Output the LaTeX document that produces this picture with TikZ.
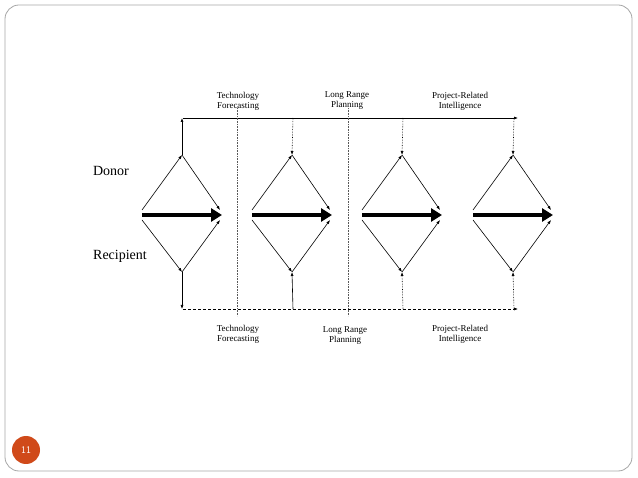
\documentclass[tikz,border=0pt]{standalone}
\usepackage{fontspec}
\setmainfont{Liberation Serif}
\usetikzlibrary{arrows.meta,calc}
\definecolor{slide}{HTML}{D04A1A}
\begin{document}
\begin{tikzpicture}[x=1pt,y=-1pt,
  thin/.style={line width=0.6pt,-{Latex[length=4pt,width=3pt]}},
  dot/.style={thin,densely dotted},
  big/.style={line width=4.5pt,-{Triangle[length=11pt,width=13pt]}},
  lab/.style={font=\fontsize{9}{10}\selectfont,align=center},
  sep/.style={line width=0.6pt,densely dotted,gray!70!black}]
\useasboundingbox (0,0) rectangle (638,478);
\draw[gray!70,line width=0.8pt,rounded corners=14pt] (5,5) rectangle (632,471);
\node[circle,fill=slide,minimum size=28pt,inner sep=0,text=white,font=\sffamily] (pg) at (26,450) {11};
\node[font=\fontsize{14}{14}\selectfont] (donor) at (111,171) {Donor};
\node[font=\fontsize{14}{14}\selectfont] (recip) at (120,256) {Recipient};
% lines
\coordinate (tl) at (183,118); \coordinate (tr) at (518,118);
\coordinate (bl) at (183,309); \coordinate (br) at (518,309);
\draw[thin] (tl) -- (tr);
\draw[thin,densely dashed] (bl) -- (br);
% separators
\coordinate (s1a) at (237,108); \coordinate (s1b) at (237,316);
\coordinate (s2a) at (348,108); \coordinate (s2b) at (348,316);
\draw[sep] (s1a) -- (s1b);
\draw[sep] (s2a) -- (s2b);
% diamonds
\foreach \i/\x in {1/142,2/252,3/362,4/473}{
  \coordinate (L\i) at (\x,215);
  \coordinate (R\i) at (\x+80,215);
  \coordinate (T\i) at (\x+40,155);
  \coordinate (B\i) at (\x+40,272);
  \draw[thin] ($(L\i)+(0,-5)$) -- (T\i);
  \draw[thin] (T\i) -- ($(R\i)+(-2,-5)$);
  \draw[thin] ($(L\i)+(0,5)$) -- (B\i);
  \draw[thin] (B\i) -- ($(R\i)+(-2,5)$);
  \draw[big] (L\i) -- (R\i);
}
\coordinate (t1) at (182,118); \coordinate (b1) at (182,309);
\draw[thin] (T1) -- (t1);
\draw[thin] (B1) -- (b1);
\foreach \i/\x in {2/293,3/403,4/514}{
  \coordinate (t\i) at (\x,118);
  \draw[dot] (t\i) -- (T\i);
}
\coordinate (b2) at (293,309);
\draw[thin] (b2) -- (B2);
\foreach \i/\x in {3/403,4/514}{
  \coordinate (b\i) at (\x,309);
  \draw[dot] (b\i) -- (B\i);
}
% labels
\node[lab] (lt1) at (238,101) {Technology\\Forecasting};
\node[lab] (lt2) at (347,101) {Long Range\\Planning};
\node[lab] (lt3) at (460,101) {Project-Related\\Intelligence};
\node[lab] (lb1) at (238,334) {Technology\\Forecasting};
\node[lab] (lb2) at (345,336) {Long Range\\Planning};
\node[lab] (lb3) at (460,334) {Project-Related\\Intelligence};
\end{tikzpicture}
\end{document}
